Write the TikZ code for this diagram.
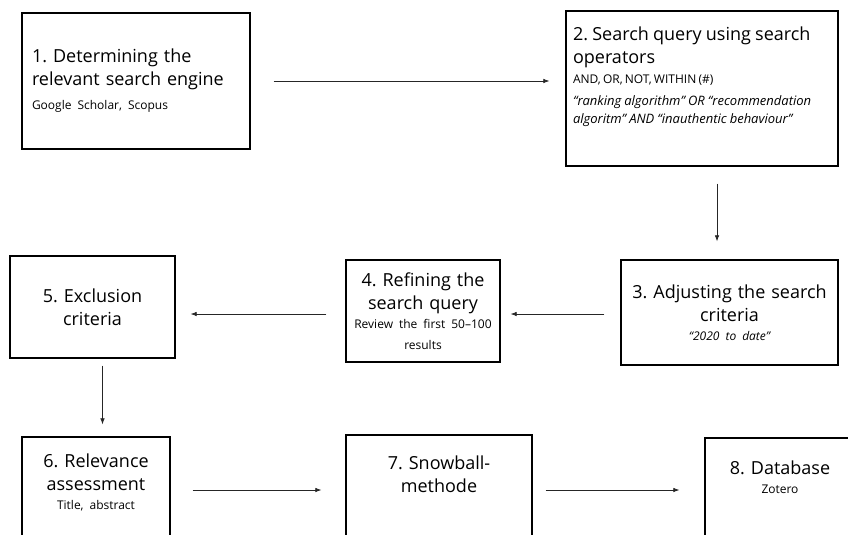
\documentclass[tikz,border=0pt]{standalone}
\usepackage{fontspec}
\setmainfont[WordSpace=0.9]{Open Sans}
\newfontfamily\subfam[WordSpace=0.7]{Open Sans}
\usetikzlibrary{arrows.meta, positioning}

\newcommand{\subtxt}{\subfam\fontsize{12}{14}\selectfont}

\begin{document}
\frenchspacing
\begin{tikzpicture}[
        x=1pt, y=-1pt,
        stage/.style={draw=black, line width=1.3pt, rectangle, inner xsep=7pt, inner ysep=0pt, align=center, font=\fontsize{18}{23}\selectfont},
        flow/.style={-{Latex[length=6pt, width=4.5pt]}, line width=0.7pt, draw=black!85}
    ]
        \useasboundingbox (0,0) rectangle (848,535);
        \clip (0,0) rectangle (848,534);

        % Erste Reihe
        \node[stage, align=left, inner xsep=10pt, text width=208pt, minimum height=136pt] (search_engine) at (136,81)
            {1. Determining the\\relevant search engine\\[1pt]{\subtxt Google Scholar, Scopus}};
        \node[stage, inner ysep=0pt] (operators) at (702,88.5)
            {\parbox[c][155pt][t]{258pt}{\raggedright\frenchspacing\vspace*{16pt}%
             2. Search query using search\\operators\par\vspace{6pt}
             {\subtxt AND, OR, NOT, WITHIN (\#)\par}\vspace{4pt}
             {\fontsize{13}{18}\selectfont\itshape “ranking algorithm” OR “recommendation\\algoritm” AND “inauthentic behaviour”\par}}};

        % Zweite Reihe (von rechts nach links)
        \node[stage, text width=203pt, minimum height=105pt] (criteria) at (729.5,312.5)
            {3. Adjusting the search\\criteria\\[-4pt]{\subtxt\itshape “2020 to date”}};
        \node[stage, text width=140pt, minimum height=102pt] (refining) at (423,311)
            {4. Refining the\\search query\\[-4pt]{\subtxt Review the first 50–100}\\[-2pt]{\subtxt results}};
        \node[stage, text width=151pt, minimum height=102pt] (exclusion) at (92.5,307)
            {5. Exclusion\\criteria};

        % Dritte Reihe
        \node[stage, text width=134pt, minimum height=100pt] (relevance) at (96,487)
            {6. Relevance\\assessment\\[-4pt]{\subtxt Title, abstract}\\[-13pt]\mbox{}};
        \node[stage, text width=172pt, minimum height=102pt] (snowball) at (439,486)
            {7. Snowball-\\methode\\[1pt]\mbox{}};
        \node[stage, text width=136pt, minimum height=99pt] (database) at (780,487.5)
            {8. Database\\[-4pt]{\subtxt Zotero}\\[-3pt]\mbox{}};

        % Verbindungen
        \draw[flow, shorten <=23pt, shorten >=16pt] (search_engine.east) -- (operators.west |- search_engine.east);
        \draw[flow, shorten <=17pt, shorten >=18pt] ([xshift=15pt]operators.south) -- ([xshift=15pt]operators.south |- criteria.north);
        \draw[flow, shorten <=16pt, shorten >=10pt] ([yshift=-1.5pt]criteria.west) -- ([yshift=-1.5pt]refining.east |- criteria.west);
        \draw[flow, shorten <=19pt, shorten >=15pt] ([yshift=-1.5pt]refining.west |- criteria.west) -- ([yshift=-1.5pt]exclusion.east |- criteria.west);
        \draw[flow, shorten <=7pt, shorten >=12pt] ([xshift=10pt]exclusion.south) -- ([xshift=10pt]exclusion.south |- relevance.north);
        \draw[flow, shorten <=22pt, shorten >=24pt] ([yshift=-3pt]relevance.east) -- ([yshift=-3pt]relevance.east -| snowball.west);
        \draw[flow, shorten <=13pt, shorten >=25pt] ([yshift=-3pt]relevance.east -| snowball.east) -- ([yshift=-3pt]relevance.east -| database.west);

    \end{tikzpicture}
\end{document}
